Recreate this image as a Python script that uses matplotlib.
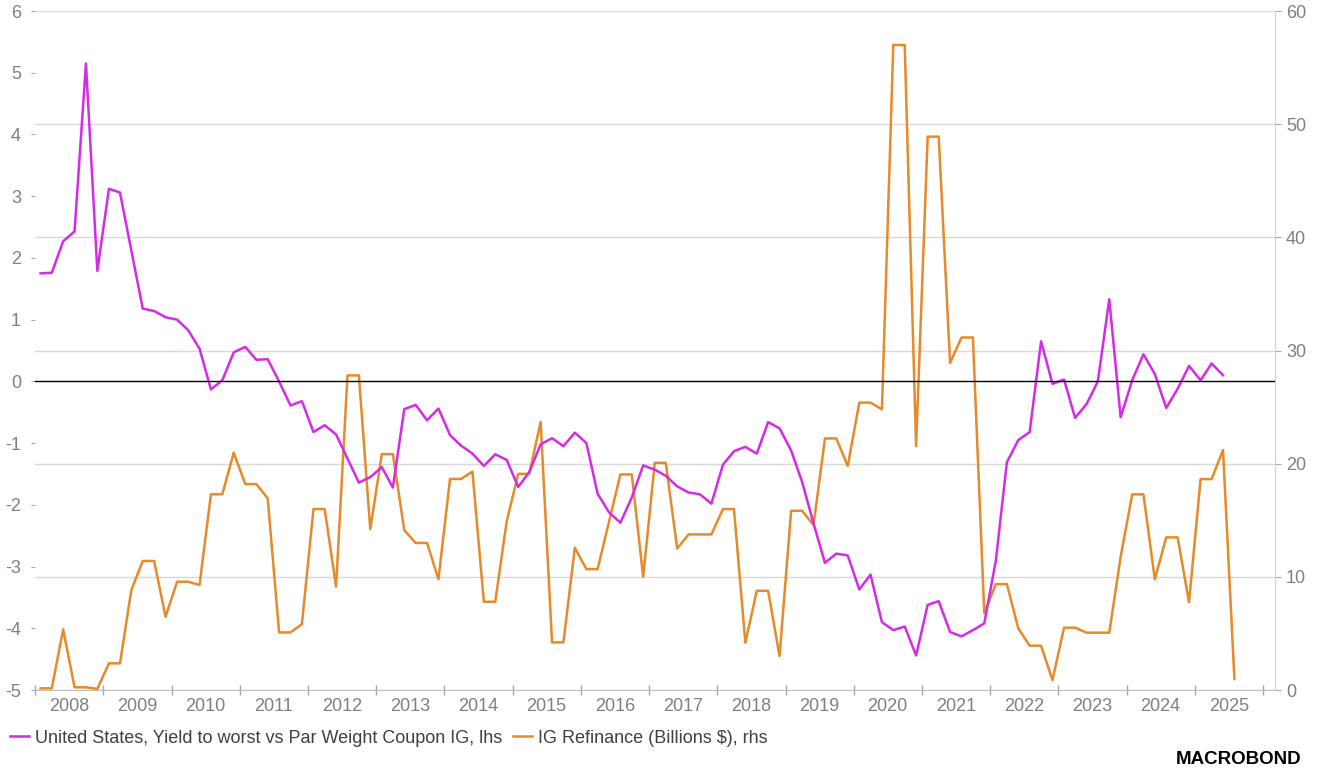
import matplotlib.pyplot as plt
import matplotlib.dates as mdates
import pandas as pd

# bi-monthly observations, month ends from Jan 2008
ytw_dates = pd.date_range("2008-01-31", periods=105, freq="2ME")
refi_dates = pd.date_range("2008-01-31", periods=106, freq="2ME")

# United States, Yield to worst vs Par Weight Coupon IG (lhs)
ytw_vs_coupon = [
    1.75, 1.76, 2.27, 2.43, 5.15, 1.79, 3.12, 3.06, 2.12, 1.18,
    1.14, 1.04, 1.00, 0.83, 0.53, -0.13, 0.02, 0.47, 0.56, 0.35,
    0.36, 0.00, -0.39, -0.32, -0.82, -0.71, -0.86, -1.25, -1.64, -1.55,
    -1.39, -1.72, -0.45, -0.38, -0.63, -0.44, -0.87, -1.04, -1.17, -1.37,
    -1.18, -1.27, -1.71, -1.47, -1.02, -0.92, -1.05, -0.83, -1.00, -1.82,
    -2.12, -2.29, -1.88, -1.36, -1.43, -1.53, -1.70, -1.80, -1.83, -1.98,
    -1.35, -1.13, -1.06, -1.17, -0.66, -0.76, -1.12, -1.63, -2.30, -2.94,
    -2.79, -2.82, -3.37, -3.13, -3.90, -4.03, -3.97, -4.44, -3.62, -3.56,
    -4.06, -4.13, -4.03, -3.92, -2.90, -1.31, -0.95, -0.82, 0.65, -0.04,
    0.03, -0.59, -0.37, 0.00, 1.33, -0.58, 0.02, 0.44, 0.12, -0.43,
    -0.12, 0.25, 0.02, 0.29, 0.10,
]

# IG Refinance (Billions $) (rhs)
ig_refinance = [
    0.15, 0.15, 5.36, 0.24, 0.24, 0.10, 2.36, 2.36, 8.83, 11.4,
    11.4, 6.48, 9.57, 9.57, 9.28, 17.3, 17.3, 20.97, 18.2, 18.2,
    16.93, 5.09, 5.09, 5.83, 15.99, 15.99, 9.13, 27.8, 27.8, 14.22,
    20.85, 20.85, 14.13, 13.0, 13.0, 9.8, 18.65, 18.65, 19.3, 7.8,
    7.8, 14.87, 19.1, 19.1, 23.7, 4.21, 4.21, 12.57, 10.69, 10.69,
    14.87, 19.05, 19.05, 10.0, 20.08, 20.08, 12.5, 13.75, 13.75, 13.75,
    15.99, 15.99, 4.18, 8.77, 8.77, 3.0, 15.84, 15.84, 14.58, 22.23,
    22.23, 19.8, 25.4, 25.4, 24.8, 57.0, 57.0, 21.55, 48.9, 48.9,
    28.9, 31.15, 31.15, 6.8, 9.36, 9.36, 5.45, 3.92, 3.92, 0.88,
    5.51, 5.51, 5.07, 5.07, 5.07, 11.78, 17.29, 17.29, 9.78, 13.49,
    13.49, 7.75, 18.64, 18.64, 21.2, 0.97,
]

plt.rcParams["font.family"] = ["Liberation Sans", "DejaVu Sans"]
plt.rcParams["axes.unicode_minus"] = False
grey = "#808080"
magenta = "#d52be6"
orange = "#e68a2a"

fig = plt.figure(figsize=(13.19, 7.82), dpi=100)
ax = fig.add_axes([0.0265, 0.1176, 0.9401, 0.8683])
ax2 = ax.twinx()
ax.set_zorder(ax2.get_zorder() + 1)
ax.patch.set_visible(False)

ax2.plot(refi_dates, ig_refinance, color=orange, lw=1.8,
         label="IG Refinance (Billions $), rhs")
ax.plot(ytw_dates, ytw_vs_coupon, color=magenta, lw=1.8,
        label="United States, Yield to worst vs Par Weight Coupon IG, lhs")
ax.axhline(0, color="black", lw=1.0)

ax.set_ylim(-5, 6)
ax.set_yticks(range(-5, 7))
ax2.set_ylim(0, 60)
ax2.set_yticks(range(0, 61, 10))
ax2.yaxis.grid(True, color="#d9d9d9", lw=1.0)
ax2.set_axisbelow(True)

ax.set_xlim(pd.Timestamp("2008-01-01"), pd.Timestamp("2026-03-05"))
ax.xaxis.set_major_locator(mdates.YearLocator())
ax.xaxis.set_major_formatter(plt.NullFormatter())
ax.xaxis.set_minor_locator(mdates.MonthLocator(bymonth=7))
ax.xaxis.set_minor_formatter(mdates.DateFormatter("%Y"))
ax.tick_params(axis="x", which="major", direction="inout", length=7,
               color="#a6a6a6", width=1)
ax.tick_params(axis="x", which="minor", length=0, labelsize=13,
               labelcolor=grey, pad=6)
ax.tick_params(axis="y", length=3, color="#a6a6a6", labelsize=13,
               labelcolor=grey, pad=7)
ax2.tick_params(axis="y", length=4, color="#a6a6a6", labelsize=13,
                labelcolor=grey, pad=4)

for s in ["top", "left", "right"]:
    ax.spines[s].set_visible(False)
ax.spines["bottom"].set_color("#bfbfbf")
for s in ["top", "left", "bottom"]:
    ax2.spines[s].set_visible(False)
ax2.spines["right"].set_color("#d0d0d0")

h1, l1 = ax.get_legend_handles_labels()
h2, l2 = ax2.get_legend_handles_labels()
fig.legend(h1 + h2, l1 + l2, loc="center left", bbox_to_anchor=(-0.002, 0.056),
           ncol=2, frameon=False, fontsize=13, handlelength=1.05,
           handletextpad=0.33, columnspacing=0.6, labelcolor="#404040",
           borderpad=0.2)

fig.text(0.987, 0.018, "MACROBOND", ha="right", va="bottom",
         fontsize=13.5, fontweight="bold", color="black")

fig.savefig("out.png", dpi=100)
